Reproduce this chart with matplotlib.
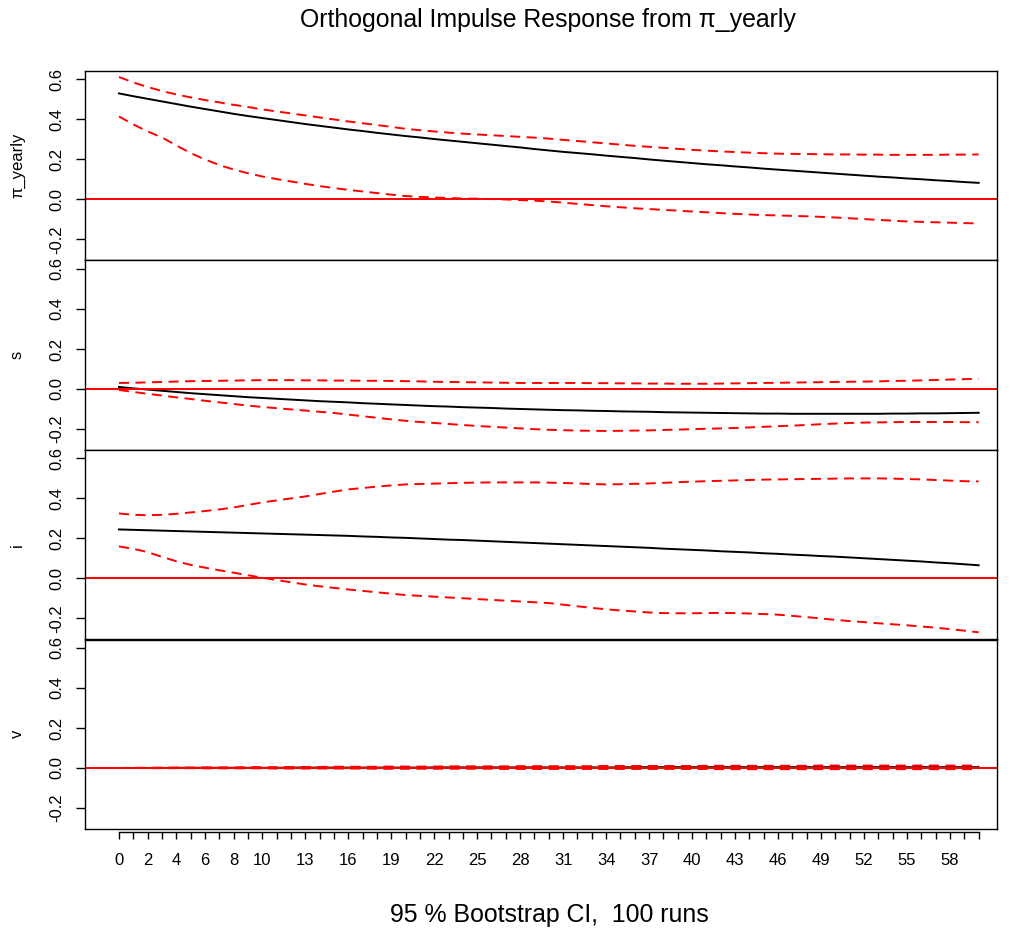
import numpy as np
import matplotlib
matplotlib.use("Agg")
import matplotlib.pyplot as plt

plt.rcParams["font.family"] = ["Liberation Sans", "DejaVu Sans"]

# ---- impulse response data (horizon 0..60) ----
horizon = np.arange(61)
variables = ["π_yearly", "s", "i", "v"]

pi_resp = [0.530, 0.516, 0.503, 0.490, 0.477, 0.464, 0.452, 0.440, 0.428, 0.417,
           0.407, 0.397, 0.387, 0.377, 0.368, 0.359, 0.350, 0.342, 0.333, 0.325,
           0.317, 0.310, 0.302, 0.295, 0.288, 0.281, 0.274, 0.267, 0.260, 0.252,
           0.245, 0.238, 0.232, 0.226, 0.219, 0.213, 0.207, 0.200, 0.194, 0.188,
           0.182, 0.176, 0.171, 0.165, 0.160, 0.154, 0.149, 0.144, 0.139, 0.134,
           0.129, 0.124, 0.119, 0.114, 0.110, 0.105, 0.101, 0.096, 0.092, 0.087,
           0.083]
pi_upper = [0.612, 0.585, 0.562, 0.542, 0.525, 0.510, 0.497, 0.485, 0.473, 0.462,
            0.450, 0.440, 0.430, 0.420, 0.410, 0.400, 0.390, 0.381, 0.372, 0.363,
            0.353, 0.346, 0.340, 0.334, 0.329, 0.325, 0.321, 0.317, 0.313, 0.309,
            0.304, 0.298, 0.292, 0.286, 0.280, 0.274, 0.268, 0.263, 0.258, 0.253,
            0.248, 0.244, 0.240, 0.237, 0.234, 0.231, 0.229, 0.228, 0.227, 0.226,
            0.225, 0.225, 0.224, 0.224, 0.223, 0.223, 0.223, 0.223, 0.224, 0.224,
            0.225]
pi_lower = [0.415, 0.375, 0.340, 0.310, 0.270, 0.232, 0.200, 0.172, 0.150, 0.131,
            0.115, 0.102, 0.090, 0.078, 0.067, 0.057, 0.048, 0.040, 0.032, 0.024,
            0.017, 0.013, 0.010, 0.007, 0.005, 0.004, 0.002, 0.000, -0.003, -0.006,
            -0.010, -0.016, -0.022, -0.028, -0.034, -0.039, -0.044, -0.048, -0.052, -0.056,
            -0.060, -0.064, -0.068, -0.072, -0.075, -0.078, -0.080, -0.082, -0.084, -0.087,
            -0.090, -0.094, -0.098, -0.102, -0.106, -0.110, -0.112, -0.114, -0.116, -0.118,
            -0.120]

s_resp = [0.010, 0.003, -0.003, -0.009, -0.015, -0.021, -0.026, -0.031, -0.036, -0.041,
          -0.045, -0.049, -0.053, -0.057, -0.061, -0.064, -0.067, -0.071, -0.074, -0.077,
          -0.080, -0.083, -0.086, -0.088, -0.091, -0.093, -0.095, -0.098, -0.100, -0.102,
          -0.104, -0.106, -0.107, -0.109, -0.110, -0.112, -0.113, -0.114, -0.116, -0.117,
          -0.118, -0.119, -0.120, -0.121, -0.122, -0.123, -0.123, -0.124, -0.124, -0.124,
          -0.124, -0.124, -0.124, -0.124, -0.123, -0.123, -0.122, -0.122, -0.121, -0.120,
          -0.119]
s_upper = [0.030, 0.031, 0.033, 0.035, 0.037, 0.039, 0.040, 0.041, 0.042, 0.043,
           0.044, 0.044, 0.044, 0.043, 0.043, 0.042, 0.042, 0.041, 0.041, 0.040,
           0.039, 0.038, 0.036, 0.035, 0.034, 0.033, 0.032, 0.031, 0.030, 0.030,
           0.030, 0.030, 0.030, 0.029, 0.029, 0.028, 0.028, 0.027, 0.027, 0.026,
           0.026, 0.026, 0.027, 0.028, 0.029, 0.030, 0.031, 0.032, 0.033, 0.034,
           0.035, 0.036, 0.037, 0.038, 0.040, 0.041, 0.043, 0.045, 0.047, 0.049,
           0.051]
s_lower = [-0.005, -0.015, -0.024, -0.033, -0.042, -0.050, -0.059, -0.067, -0.075, -0.083,
           -0.090, -0.096, -0.102, -0.108, -0.114, -0.120, -0.128, -0.136, -0.144, -0.152,
           -0.159, -0.165, -0.170, -0.175, -0.180, -0.185, -0.189, -0.193, -0.197, -0.201,
           -0.204, -0.206, -0.208, -0.209, -0.210, -0.209, -0.208, -0.207, -0.205, -0.203,
           -0.201, -0.199, -0.197, -0.195, -0.192, -0.189, -0.186, -0.183, -0.180, -0.176,
           -0.173, -0.170, -0.168, -0.167, -0.166, -0.165, -0.165, -0.165, -0.165, -0.166,
           -0.166]

i_resp = [0.245, 0.243, 0.241, 0.239, 0.237, 0.235, 0.233, 0.231, 0.229, 0.227,
          0.225, 0.223, 0.221, 0.219, 0.217, 0.215, 0.213, 0.210, 0.208, 0.205,
          0.203, 0.200, 0.197, 0.194, 0.192, 0.189, 0.186, 0.183, 0.180, 0.177,
          0.174, 0.171, 0.168, 0.165, 0.162, 0.159, 0.156, 0.153, 0.149, 0.146,
          0.143, 0.140, 0.136, 0.133, 0.130, 0.126, 0.123, 0.119, 0.116, 0.112,
          0.109, 0.105, 0.101, 0.097, 0.093, 0.089, 0.085, 0.080, 0.076, 0.071,
          0.066]
i_upper = [0.325, 0.318, 0.316, 0.318, 0.323, 0.330, 0.337, 0.345, 0.355, 0.367,
           0.380, 0.390, 0.400, 0.410, 0.422, 0.434, 0.445, 0.452, 0.459, 0.465,
           0.470, 0.472, 0.474, 0.476, 0.478, 0.479, 0.480, 0.480, 0.480, 0.480,
           0.479, 0.477, 0.475, 0.472, 0.470, 0.471, 0.473, 0.475, 0.478, 0.481,
           0.484, 0.486, 0.488, 0.490, 0.492, 0.494, 0.495, 0.496, 0.497, 0.498,
           0.499, 0.500, 0.500, 0.500, 0.499, 0.497, 0.495, 0.492, 0.489, 0.486,
           0.485]
i_lower = [0.160, 0.148, 0.132, 0.108, 0.086, 0.068, 0.054, 0.041, 0.029, 0.016,
           0.004, -0.008, -0.019, -0.030, -0.039, -0.047, -0.055, -0.062, -0.069, -0.076,
           -0.083, -0.087, -0.091, -0.095, -0.099, -0.103, -0.107, -0.111, -0.115, -0.119,
           -0.123, -0.131, -0.139, -0.147, -0.154, -0.160, -0.165, -0.170, -0.173, -0.174,
           -0.174, -0.173, -0.172, -0.173, -0.175, -0.178, -0.181, -0.187, -0.193, -0.200,
           -0.207, -0.213, -0.218, -0.224, -0.229, -0.234, -0.240, -0.246, -0.253, -0.261,
           -0.269]

v_resp = [0.000, 0.000, 0.000, 0.000, 0.001, 0.001, 0.001, 0.001, 0.001, 0.001,
          0.001, 0.001, 0.002, 0.002, 0.002, 0.002, 0.002, 0.002, 0.002, 0.002,
          0.002, 0.002, 0.003, 0.003, 0.003, 0.003, 0.003, 0.003, 0.003, 0.003,
          0.003, 0.003, 0.003, 0.003, 0.003, 0.003, 0.004, 0.004, 0.004, 0.004,
          0.004, 0.004, 0.004, 0.004, 0.004, 0.004, 0.004, 0.004, 0.004, 0.004,
          0.004, 0.004, 0.004, 0.004, 0.004, 0.004, 0.004, 0.004, 0.004, 0.004,
          0.004]
v_upper = [0.000, 0.001, 0.001, 0.002, 0.002, 0.002, 0.003, 0.003, 0.003, 0.004,
           0.004, 0.004, 0.005, 0.005, 0.005, 0.006, 0.006, 0.006, 0.006, 0.007,
           0.007, 0.007, 0.007, 0.008, 0.008, 0.008, 0.008, 0.008, 0.009, 0.009,
           0.009, 0.009, 0.009, 0.009, 0.010, 0.010, 0.010, 0.010, 0.010, 0.010,
           0.010, 0.011, 0.011, 0.011, 0.011, 0.011, 0.011, 0.011, 0.011, 0.012,
           0.012, 0.012, 0.012, 0.012, 0.012, 0.012, 0.012, 0.012, 0.012, 0.012,
           0.012]
v_lower = [0.000, 0.000, -0.001, -0.001, -0.001, -0.001, -0.002, -0.002, -0.002, -0.002,
           -0.002, -0.003, -0.003, -0.003, -0.003, -0.003, -0.003, -0.003, -0.004, -0.004,
           -0.004, -0.004, -0.004, -0.004, -0.004, -0.004, -0.004, -0.005, -0.005, -0.005,
           -0.005, -0.005, -0.005, -0.005, -0.005, -0.005, -0.005, -0.005, -0.005, -0.005,
           -0.005, -0.005, -0.006, -0.006, -0.006, -0.006, -0.006, -0.006, -0.006, -0.006,
           -0.006, -0.006, -0.006, -0.006, -0.006, -0.006, -0.006, -0.006, -0.006, -0.006,
           -0.006]

responses = [pi_resp, s_resp, i_resp, v_resp]
uppers = [pi_upper, s_upper, i_upper, v_upper]
lowers = [pi_lower, s_lower, i_lower, v_lower]

y_ticks = [-0.2, 0.0, 0.2, 0.4, 0.6]
y_ticklabels = ["-0.2", "0.0", "0.2", "0.4", "0.6"]
labelled_steps = [0, 2, 4, 6, 8, 10, 13, 16, 19, 22, 25, 28, 31, 34, 37,
                  40, 43, 46, 49, 52, 55, 58]

title = "Orthogonal Impulse Response from π_yearly"
footer = "95 % Bootstrap CI,  100 runs"

# ---- layout (pixel based) ----
W, H = 1017, 938
left_px, right_px, top_px, panel_px = 85, 997, 71, 189.5
ylim = (-0.305, 0.642)
xlim = (-2.37, 61.28)
lw = 1.4
dash = (0, (5.2, 3.3))

fig = plt.figure(figsize=(W / 100, H / 100), dpi=100)

for k, name in enumerate(variables):
    top = top_px + k * panel_px
    ax = fig.add_axes([left_px / W, 1 - (top + panel_px) / H,
                       (right_px - left_px) / W, panel_px / H])
    ax.plot(horizon, responses[k], color="black", lw=lw, zorder=2)
    ax.plot(horizon, uppers[k], color="red", lw=lw, ls=dash, zorder=3)
    ax.plot(horizon, lowers[k], color="red", lw=lw, ls=dash, zorder=3)
    ax.axhline(0, color="red", lw=lw, zorder=2.5)
    ax.set_xlim(*xlim)
    ax.set_ylim(*ylim)
    ax.set_yticks(y_ticks)
    ax.set_yticklabels(y_ticklabels, rotation=90, va="center")
    ax.tick_params(axis="y", direction="out", length=6.5, width=1.0,
                   labelsize=12, pad=8.5)
    for sp in ax.spines.values():
        sp.set_linewidth(1.0)
    fig.text(22 / W, 1 - (top + panel_px / 2) / H, name, rotation=90,
             ha="center", va="baseline", rotation_mode="anchor", fontsize=12)

    if k < len(variables) - 1:
        ax.tick_params(axis="x", bottom=False, labelbottom=False)
    else:
        ax.set_xticks(horizon)
        ax.set_xticklabels([str(h) if h in labelled_steps else "" for h in horizon])
        ax.tick_params(axis="x", direction="out", length=5, width=1.0,
                       labelsize=12, pad=10)
        ax.spines["bottom"].set_position(("outward", 2.2))
        ax.spines["bottom"].set_bounds(0, 60)
        # closing line of the frame along the bottom
        ax.plot([0, 1], [0, 0], transform=ax.transAxes, color="black",
                lw=1.0, clip_on=False, zorder=4)

fig.text(548 / W, 1 - 20 / H, title, ha="center", va="center", fontsize=17.9)
fig.text(549 / W, 1 - 915 / H, footer, ha="center", va="center", fontsize=17.9)

fig.savefig("out.png", dpi=100)
